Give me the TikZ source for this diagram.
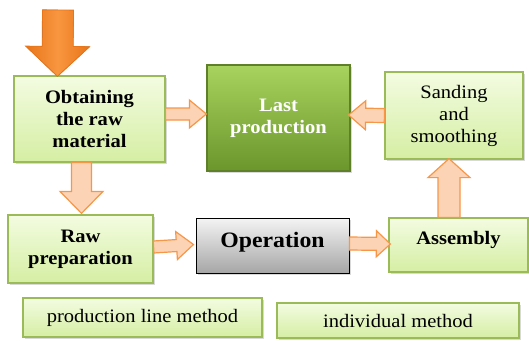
\documentclass[tikz,border=0pt]{standalone}
\usepackage{fontspec}
\setmainfont[FakeStretch=1.08]{Liberation Serif}
\usetikzlibrary{calc}
\usetikzlibrary{shadows}

\definecolor{boxtop}{HTML}{F3FCE1}
\definecolor{boxbot}{HTML}{D5EEA3}
\definecolor{boxline}{HTML}{9BBB59}
\definecolor{lasttop}{HTML}{A9D35E}
\definecolor{lastbot}{HTML}{6A962C}
\definecolor{lastline}{HTML}{5F7F2A}
\definecolor{optop}{HTML}{F4F4F4}
\definecolor{opbot}{HTML}{A6A6A6}
\definecolor{flowfill}{HTML}{FCD3B5}
\definecolor{flowline}{HTML}{F79646}
\definecolor{bigtop}{HTML}{F8963F}
\definecolor{bigbot}{HTML}{E8751A}

\tikzset{
  stage/.style={draw=boxline,line width=1.2pt,top color=boxtop,bottom color=boxbot,align=center,inner sep=0pt,
    drop shadow={opacity=0.3,shadow xshift=1.5pt,shadow yshift=-1.5pt},font=\fontsize{19}{22}\selectfont},
  boldstage/.style={stage,font=\fontsize{19}{22}\selectfont\bfseries},
  laststage/.style={boldstage,draw=lastline,top color=lasttop,bottom color=lastbot,text=white},
  opstage/.style={boldstage,draw=black,line width=1pt,top color=optop,bottom color=opbot,font=\fontsize{22}{26}\selectfont\bfseries},
  flow/.style={draw=flowline,line width=1.2pt,fill=flowfill,line join=miter},
  bigflow/.style={draw=bigbot,line width=0.8pt,left color=bigbot,right color=bigbot,middle color=bigtop}
}

\newcommand{\fatarrow}[6][flow]{%
  \coordinate (fa-s) at (#2);
  \coordinate (fa-t) at (#3);
  \coordinate (fa-h) at ($(fa-t)!#6!(fa-s)$);
  \filldraw[#1] ($(fa-s)!#4!90:(fa-t)$) -- ($(fa-h)!#4!90:(fa-t)$) -- ($(fa-h)!#5!90:(fa-t)$) -- (fa-t)
    -- ($(fa-h)!#5!-90:(fa-t)$) -- ($(fa-h)!#4!-90:(fa-t)$) -- ($(fa-s)!#4!-90:(fa-t)$) -- cycle;}

\begin{document}
\begin{tikzpicture}[x=1pt,y=-1pt]
\useasboundingbox (0,0) rectangle (529,340);

\node[boldstage,minimum width=151pt,minimum height=86pt] (obt) at (89.5,119) {Obtaining\\the raw\\material};
\node[laststage,minimum width=143pt,minimum height=106pt] (last) at (278.5,118) {Last\\production};
\node[stage,minimum width=138pt,minimum height=87pt] (sand) at (454,115.5) {Sanding\\and\\smoothing};
\node[boldstage,minimum width=145pt,minimum height=68pt] (raw) at (80.5,249) {Raw\\preparation};
\node[opstage,minimum width=153pt,minimum height=55pt,text depth=12pt] (op) at (272.5,245.5) {Operation};
\node[boldstage,minimum width=139pt,minimum height=54pt,text depth=14pt] (asm) at (458.5,245) {Assembly};
\node[stage,minimum width=239pt,minimum height=39pt] (plm) at (142.5,317.5) {production line method};
\node[stage,minimum width=242pt,minimum height=35pt] (ind) at (398,320.5) {individual method};

\coordinate (feed) at (58,10);
\fatarrow[bigflow]{feed}{$(obt.north west)+(44,1)$}{15.5pt}{32pt}{30pt}
\fatarrow{$(obt.east)+(0,-5)$}{$(last.west)+(0,-4)$}{6pt}{14pt}{17pt}
\fatarrow{sand.west}{$(last.east)+(-2,-3)$}{7pt}{14.5pt}{17pt}
\fatarrow{$(asm.north)+(-9.5,0)$}{$(sand.south)+(-5,-1)$}{11pt}{21pt}{19pt}
\fatarrow{$(op.east)+(0,-2)$}{$(asm.west)+(2,-1)$}{6.5pt}{13pt}{14pt}
\fatarrow{$(raw.east)+(0,-2)$}{$(op.west)+(-2,-1)$}{6pt}{14pt}{17pt}
\fatarrow{$(obt.south)+(-8,0)$}{$(raw.north)+(1,-1)$}{10pt}{21.5pt}{22pt}

\end{tikzpicture}
\end{document}
